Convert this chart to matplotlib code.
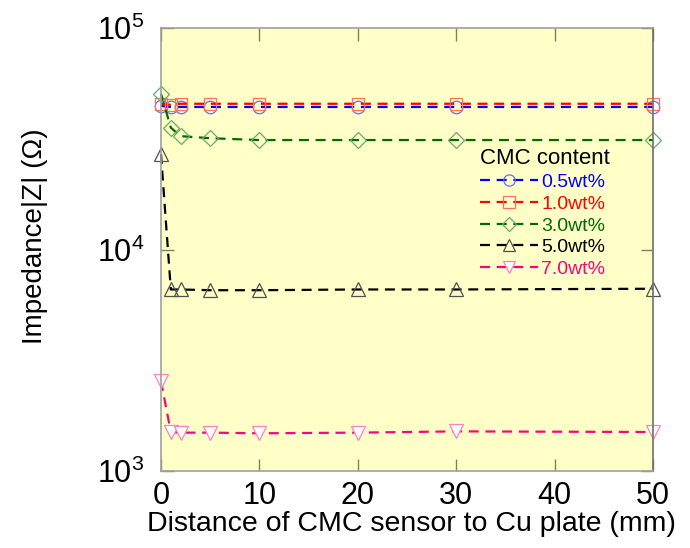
import numpy as np
import matplotlib
matplotlib.use("Agg")
import matplotlib.pyplot as plt
from matplotlib.ticker import FixedLocator, FixedFormatter, NullLocator

plt.rcParams['font.family'] = ['Liberation Sans', 'DejaVu Sans']
plt.rcParams['mathtext.fontset'] = 'custom'
plt.rcParams['mathtext.rm'] = 'Liberation Sans'

# data
distance = [0, 1, 2, 5, 10, 20, 30, 50]  # mm
z_05 = [44500, 44000, 44000, 44000, 44000, 44000, 44000, 44000]
z_10 = [45500, 45000, 45500, 45500, 45500, 45500, 45500, 45500]
z_30 = [50500, 35500, 32500, 31800, 31200, 31200, 31200, 31200]
z_50 = [27000, 6600, 6600, 6550, 6550, 6600, 6600, 6650]
z_70 = [2550, 1500, 1490, 1490, 1480, 1490, 1510, 1500]

labels = ['0.5wt%', '1.0wt%', '3.0wt%', '5.0wt%', '7.0wt%']
line_colors = ['#0000ff', '#ff0000', '#006b00', '#000000', '#ff0080']
edge_colors = ['#6a6aff', '#ff7060', '#6aaa6a', '#505050', '#ff80c0']
face_colors = ['none', 'none', 'none', 'none', 'white']
markers = ['o', 's', 'D', '^', 'v']
msizes = [9, 9, 8, 10, 10]
series = [z_05, z_10, z_30, z_50, z_70]

fig = plt.figure(figsize=(6.9, 5.48), dpi=100)
ax = fig.add_axes([0.2333, 0.1405, 0.713, 0.8084])
ax.set_facecolor('#ffffc8')

for ys, lab, lc, ec, fc, mk, ms in zip(series, labels, line_colors, edge_colors, face_colors, markers, msizes):
    ax.plot(distance, ys, linestyle='--', dashes=(4.5, 3), color=lc, lw=1.6,
            marker=mk, ms=ms, mec=ec, mfc=fc, mew=0.9, label=lab, clip_on=False)

ax.set_yscale('log')
ax.set_xlim(0, 50)
ax.set_ylim(1e3, 1e5)

ax.xaxis.set_major_locator(FixedLocator([0, 10, 20, 30, 40, 50]))
ax.yaxis.set_major_locator(FixedLocator([1e3, 1e4, 1e5]))
ax.yaxis.set_major_formatter(FixedFormatter([r'$\mathregular{10^{3}}$', r'$\mathregular{10^{4}}$', r'$\mathregular{10^{5}}$']))
ax.yaxis.set_minor_locator(NullLocator())
ax.tick_params(axis='both', which='major', direction='in', length=9, width=1,
               color='#808060', labelsize=22, top=True, right=True)
ax.tick_params(axis='x', pad=7)
ax.tick_params(axis='y', pad=12)

for s in ax.spines.values():
    s.set_color('#a0a0a0')
    s.set_linewidth(1.2)
ax.spines['right'].set_color('#707070')

ax.set_xlabel('Distance of CMC sensor to Cu plate (mm)', fontsize=20.5)
ax.set_ylabel('Impedance|Z| (Ω)', fontsize=20)
ax.xaxis.set_label_coords(0.51, -0.09)
ax.yaxis.set_label_coords(-0.23, 0.53)

leg = ax.legend(title='CMC content', loc='upper left', bbox_to_anchor=(0.629, 0.75),
                frameon=False, fontsize=14, title_fontsize=16, handlelength=3.0,
                handletextpad=0.15, labelspacing=0.21, alignment='left',
                labelcolor='linecolor', borderpad=0, markerscale=0.9)

fig.savefig('out.png', dpi=100)
